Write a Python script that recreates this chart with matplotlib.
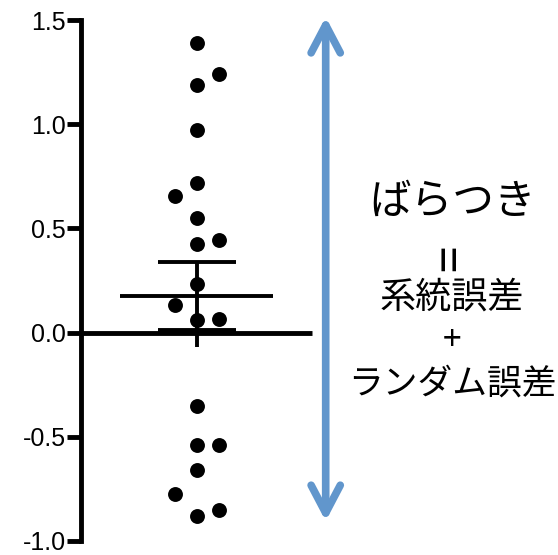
import matplotlib
matplotlib.use("Agg")
import matplotlib.pyplot as plt
import numpy as np

plt.rcParams['font.family'] = ['Liberation Sans', 'Noto Sans CJK JP', 'DejaVu Sans']

# data values (swarm columns: -1 left, 0 centre, 1 right)
values = [1.391, 1.243, 1.186, 0.970, 0.717, 0.655, 0.551, 0.443, 0.427,
          0.231, 0.133, 0.061, 0.063,
          -0.352, -0.537, -0.537, -0.657, -0.774, -0.853, -0.882]
columns = [0, 1, 0, 0, 0, -1, 0, 1, 0,
           0, -1, 0, 1,
           0, 0, 1, 0, -1, 1, 0]
yticks = [-1.0, -0.5, 0.0, 0.5, 1.0, 1.5]
ytick_labels = ["-1.0", "-0.5", "0.0", "0.5", "1.0", "1.5"]
mean_val = float(np.mean(values))
sem_val = float(np.std(values, ddof=1) / np.sqrt(len(values)))
text_lines = ["ばらつき", "=", "系統誤差", "+", "ランダム誤差"]

fig = plt.figure(figsize=(5.58, 5.55), dpi=100)
ax = fig.add_axes([81/558, 14/555, 1 - 81/558, 521/555])
ax.set_xlim(-116/22, (558-197)/22)
ax.set_ylim(-1.0, 1.5)

ax.scatter(columns, values, s=115, color='black', zorder=3, linewidths=0)

# zero line
ax.plot([-5.27, 5.23], [0, 0], color='black', lw=3.5, solid_capstyle='butt', zorder=2)
# mean line
ax.plot([-3.5, 3.45], [mean_val, mean_val], color='black', lw=2.8, solid_capstyle='butt', zorder=4)
# error bar
ax.plot([0, 0], [-0.07, mean_val + sem_val], color='black', lw=2.8, solid_capstyle='butt', zorder=4)
for yy in (mean_val + sem_val, mean_val - sem_val):
    ax.plot([-1.77, 1.77], [yy, yy], color='black', lw=2.8, solid_capstyle='butt', zorder=4)

# arrow
ax.annotate('', xy=(5.85, 1.515), xytext=(5.85, -0.905), annotation_clip=False,
            arrowprops=dict(arrowstyle='<->,head_length=2.0,head_width=1.05',
                            color='#6196CC', lw=5.5, capstyle='round', joinstyle='round',
                            shrinkA=0, shrinkB=0))

cjk = ['Noto Sans CJK JP']
tx = 11.6
ax.text(tx, 0.625, text_lines[0], fontsize=30, ha='center', va='center', family=cjk)
ax.text(tx, 0.36, text_lines[1], fontsize=34, ha='center', va='center', rotation=90,
        family=cjk)
ax.text(tx, 0.169, text_lines[2], fontsize=26, ha='center', va='center', family=cjk)
ax.text(tx, -0.039, text_lines[3], fontsize=24, ha='center', va='center', family=cjk)
ax.text(tx, -0.246, text_lines[4], fontsize=25, ha='center', va='center', family=cjk)

for s in ['top', 'right', 'bottom']:
    ax.spines[s].set_visible(False)
ax.spines['left'].set_linewidth(3.5)
ax.spines['left'].set_capstyle('projecting')
ax.set_xticks([])
ax.set_yticks(yticks)
ax.set_yticklabels(ytick_labels)
ax.tick_params(axis='y', length=10, width=3.5, labelsize=18, pad=1, direction='out')

fig.savefig('out.png', dpi=100)
